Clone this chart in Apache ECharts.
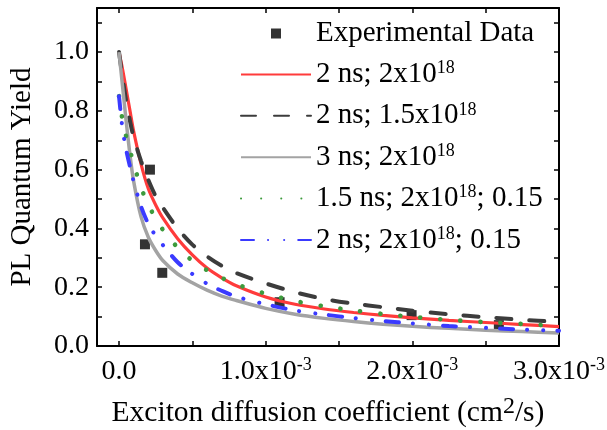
<!DOCTYPE html>
<html>
<head>
<meta charset="utf-8">
<script src="https://cdn.jsdelivr.net/npm/echarts@6/dist/echarts.min.js"></script>
<style>
  html, body { margin: 0; padding: 0; background: #fff; }
  #chart { width: 607px; height: 430px; }
</style>
</head>
<body>
<div id="chart"></div>
<script>
// x values are in units of 1e-3 cm^2/s
const xs = [0, 0.025, 0.05, 0.075, 0.1, 0.15, 0.2, 0.25, 0.3, 0.4, 0.5, 0.6, 0.7, 0.8, 1.0, 1.2, 1.4, 1.6, 1.8, 2.0, 2.25, 2.5, 2.75, 3.0];
const red2ns = [1.0, 0.94, 0.87, 0.80, 0.73, 0.62, 0.535, 0.48, 0.435, 0.365, 0.31, 0.265, 0.232, 0.205, 0.167, 0.142, 0.126, 0.114, 0.104, 0.096, 0.087, 0.08, 0.073, 0.066];
const dark2ns = [1.0, 0.91, 0.83, 0.765, 0.71, 0.63, 0.565, 0.51, 0.47, 0.40, 0.345, 0.305, 0.273, 0.248, 0.213, 0.183, 0.16, 0.144, 0.132, 0.12, 0.108, 0.098, 0.089, 0.082];
const gray3ns = [1.0, 0.88, 0.76, 0.65, 0.56, 0.44, 0.37, 0.325, 0.29, 0.245, 0.215, 0.19, 0.17, 0.155, 0.128, 0.108, 0.094, 0.083, 0.074, 0.067, 0.06, 0.054, 0.049, 0.044];
const green15ns = [0.85, 0.765, 0.71, 0.665, 0.62, 0.54, 0.48, 0.435, 0.395, 0.335, 0.29, 0.258, 0.232, 0.21, 0.178, 0.153, 0.135, 0.121, 0.109, 0.099, 0.089, 0.081, 0.075, 0.068];
const blue2ns = [0.85, 0.735, 0.665, 0.61, 0.56, 0.475, 0.415, 0.375, 0.343, 0.285, 0.245, 0.212, 0.188, 0.168, 0.142, 0.121, 0.107, 0.095, 0.085, 0.077, 0.068, 0.062, 0.056, 0.052];

const expX = [0.177, 0.211, 0.295, 1.095, 1.995, 2.59];
const expY = [0.346, 0.6, 0.249, 0.149, 0.105, 0.071];

const xTicks = [0, 0.5, 1.0, 1.5, 2.0, 2.5, 3.0];
const xLabels = [0, 1.0, 2.0, 3.0];
const yTicks = [0, 0.1, 0.2, 0.3, 0.4, 0.5, 0.6, 0.7, 0.8, 0.9, 1.0, 1.1];
const yLabels = [0, 0.2, 0.4, 0.6, 0.8, 1.0];

const legendText = {
  exp: "{n|Experimental Data}",
  r: "{n|2 ns; 2x10}{s|18}",
  d: "{n|2 ns; 1.5x10}{s|18}",
  g: "{n|3 ns; 2x10}{s|18}",
  gr: "{n|1.5 ns; 2x10}{s|18}{n|; 0.15}",
  b: "{n|2 ns; 2x10}{s|18}{n|; 0.15}"
};

const font = "Liberation Serif";
const pair = ys => xs.map((x, i) => [x, ys[i]]);

let mychart = echarts.init(document.getElementById("chart"));

const lineSeries = (name, ys, color, width, dash) => ({
  name: name,
  type: "line",
  data: pair(ys),
  symbol: "none",
  smooth: 0.3,
  lineStyle: {
    color: color,
    width: width,
    type: dash || "solid",
    cap: dash ? "round" : "butt"
  },
  itemStyle: { color: color }
});

const noDot = { opacity: 0 };

mychart.setOption({
  animation: false,
  grid: { left: 97, right: 48, top: 8, bottom: 84, outerBoundsMode: "none" },
  legend: {
    orient: "vertical",
    left: 235,
    top: 14,
    itemWidth: 70,
    itemHeight: 10,
    itemGap: 11.4,
    symbolKeepAspect: true,
    selectedMode: false,
    formatter: name => legendText[name],
    textStyle: {
      color: "#000",
      fontFamily: font,
      rich: {
        n: { fontSize: 29, lineHeight: 30, fontFamily: font, color: "#000" },
        s: { fontSize: 18, lineHeight: 18, padding: [0, 0, 12, 0], fontFamily: font, color: "#000" }
      }
    },
    data: [
      { name: "exp", icon: "path://M0,0L10,0L10,10L0,10Z", itemStyle: { color: "#000", borderWidth: 0 } },
      { name: "r", itemStyle: noDot },
      { name: "d", itemStyle: noDot },
      { name: "g", itemStyle: noDot },
      { name: "gr", itemStyle: noDot },
      { name: "b", itemStyle: noDot }
    ]
  },
  xAxis: [
    {
      type: "value",
      min: -0.15,
      max: 3.0,
      position: "bottom",
      name: "{n|Exciton diffusion coefficient (cm}{s|2}{n|/s)}",
      nameLocation: "middle",
      nameGap: 52,
      nameTextStyle: {
        rich: {
          n: { fontSize: 29.5, fontFamily: font, color: "#000" },
          s: { fontSize: 24, lineHeight: 24, padding: [0, 0, 12, 0], fontFamily: font, color: "#000" }
        }
      },
      axisLine: { onZero: false, lineStyle: { color: "#000", width: 2 } },
      axisTick: { inside: true, length: 5, customValues: xTicks, lineStyle: { color: "#000", width: 1.5 } },
      axisLabel: {
        customValues: xLabels,
        margin: 12,
        formatter: v => v === 0 ? "{n|0.0}" : "{n|" + v.toFixed(1) + "x10}{s|-3}",
        rich: {
          n: { fontSize: 28, fontFamily: font, color: "#000" },
          s: { fontSize: 18, lineHeight: 18, padding: [0, 0, 13, 0], fontFamily: font, color: "#000" }
        }
      },
      splitLine: { show: false }
    },
    {
      type: "value",
      min: -0.15,
      max: 3.0,
      position: "top",
      axisLine: { onZero: false, lineStyle: { color: "#000", width: 2 } },
      axisTick: { inside: true, length: 5, customValues: xTicks, lineStyle: { color: "#000", width: 1.5 } },
      axisLabel: { show: false },
      splitLine: { show: false }
    }
  ],
  yAxis: [
    {
      type: "value",
      min: 0,
      max: 1.15,
      position: "left",
      name: "PL Quantum Yield",
      nameLocation: "middle",
      nameGap: 60,
      nameTextStyle: { fontSize: 29, fontFamily: font, color: "#000" },
      axisLine: { show: true, onZero: false, lineStyle: { color: "#000", width: 2 } },
      axisTick: { show: true, inside: true, length: 5, customValues: yTicks, lineStyle: { color: "#000", width: 1.5 } },
      axisLabel: {
        customValues: yLabels,
        margin: 8,
        formatter: v => v.toFixed(1),
        fontSize: 28,
        fontFamily: font,
        color: "#000"
      },
      splitLine: { show: false }
    },
    {
      type: "value",
      min: 0,
      max: 1.15,
      position: "right",
      axisLine: { show: true, onZero: false, lineStyle: { color: "#000", width: 2 } },
      axisTick: { show: true, inside: true, length: 5, customValues: yTicks, lineStyle: { color: "#000", width: 1.5 } },
      axisLabel: { show: false },
      splitLine: { show: false }
    }
  ],
  series: [
    {
      name: "exp",
      type: "scatter",
      symbol: "rect",
      symbolSize: 10,
      itemStyle: { color: "#000" },
      data: expX.map((x, i) => [x, expY[i]])
    },
    lineSeries("r", red2ns, "#ff3b3b", 3.2),
    lineSeries("d", dark2ns, "#3c3c3c", 4, [15, 18]),
    lineSeries("g", gray3ns, "#a3a3a3", 3.5),
    lineSeries("gr", green15ns, "#3d9b3d", 4.6, [0.1, 20]),
    lineSeries("b", blue2ns, "#3a3aff", 4, [13, 14, 0.1, 16, 0.1, 14])
  ]
});
</script>
</body>
</html>
